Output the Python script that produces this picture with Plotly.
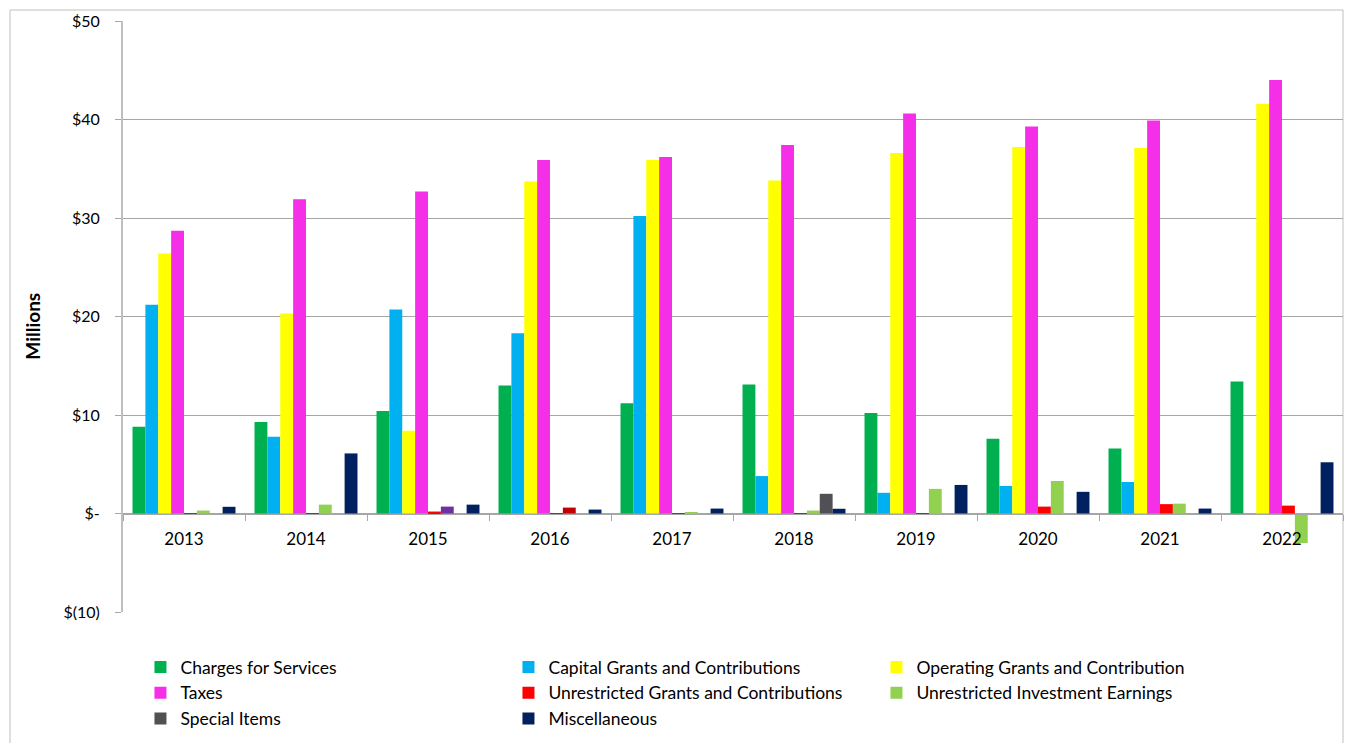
import plotly.graph_objects as go

# Revenue by source, in millions of dollars
years = ["2013", "2014", "2015", "2016", "2017", "2018", "2019", "2020", "2021", "2022"]

charges_for_services = [8.8, 9.3, 10.4, 13.0, 11.2, 13.1, 10.2, 7.6, 6.6, 13.4]
capital_grants = [21.2, 7.8, 20.7, 18.3, 30.2, 3.8, 2.1, 2.8, 3.2, 0.0]
operating_grants = [26.4, 20.3, 8.4, 33.7, 35.9, 33.8, 36.6, 37.2, 37.1, 41.6]
taxes = [28.7, 31.9, 32.7, 35.9, 36.2, 37.4, 40.6, 39.3, 39.9, 44.0]
unrestricted_grants = [0.03, 0.03, 0.2, 0.03, 0.03, 0.03, 0.03, 0.7, 0.95, 0.8]
investment_earnings = [0.3, 0.9, 0.7, 0.6, 0.15, 0.3, 2.5, 3.3, 1.0, -3.0]
special_items = [0.0, 0.0, 0.0, 0.0, 0.0, 2.0, 0.0, 0.0, 0.0, 0.0]
miscellaneous = [0.68, 6.1, 0.9, 0.4, 0.5, 0.48, 2.9, 2.2, 0.5, 5.2]

y_range = [-10, 50]
y_tickvals = [-10, 0, 10, 20, 30, 40, 50]
y_ticktext = ["$(10)", "$-", "$10", "$20", "$30", "$40", "$50"]

# Investment earnings bars carry a couple of individually recoloured points
investment_colors = ["#92D050"] * len(years)
investment_colors[2] = "#7030A0"
investment_colors[3] = "#C00000"

series = [
    ("Charges for Services", charges_for_services, "#00B050"),
    ("Capital Grants and Contributions", capital_grants, "#00B0F0"),
    ("Operating Grants and Contribution", operating_grants, "#FFFF00"),
    ("Taxes", taxes, "#F52FE8"),
    ("Unrestricted Grants and Contributions", unrestricted_grants, "#FF0000"),
    ("Unrestricted Investment Earnings", investment_earnings, investment_colors),
    ("Special Items", special_items, "#505055"),
    ("Miscellaneous", miscellaneous, "#002060"),
]

FONT = "Lato"
AXIS_GREY = "#A6A6A6"

fig = go.Figure()
for name, values, color in series:
    fig.add_trace(go.Bar(
        x=years, y=values, name=name,
        marker=dict(color=color, line=dict(width=0)),
        hoverinfo="x+y+name",
    ))

# Empty companion trace so the overlay axis knows the categories
# (it only draws the tick marks between the year groups)
fig.add_trace(go.Bar(
    x=years, y=[None] * len(years), xaxis="x2", yaxis="y",
    showlegend=False, hoverinfo="skip",
))

zero_pos = (0 - y_range[0]) / (y_range[1] - y_range[0])

fig.update_layout(
    width=1348, height=743,
    margin=dict(l=123, r=5, t=21, b=131, autoexpand=False),
    paper_bgcolor="white", plot_bgcolor="white",
    barmode="group", bargap=0.156, bargroupgap=0,
    font=dict(family=FONT, size=16, color="#000000"),
    showlegend=True,
    legend=dict(
        orientation="h",
        xref="container", yref="container",
        x=0.1042, xanchor="left", y=0.1265, yanchor="top",
        entrywidth=323, entrywidthmode="pixels",
        font=dict(family=FONT, size=17.5, color="#000000"),
        tracegroupgap=0,
        bgcolor="rgba(0,0,0,0)",
    ),
    xaxis=dict(
        anchor="free", position=zero_pos,
        showline=True, linecolor=AXIS_GREY, linewidth=1,
        ticks="", showgrid=False,
        tickfont=dict(family=FONT, size=17),
        ticklabelstandoff=10,
        fixedrange=True,
    ),
    xaxis2=dict(
        overlaying="x", anchor="free", position=zero_pos,
        showline=False, showgrid=False, showticklabels=False,
        ticks="outside", tickson="boundaries", ticklen=6,
        tickcolor=AXIS_GREY, tickwidth=1,
        fixedrange=True,
    ),
    yaxis=dict(
        range=y_range, tickvals=y_tickvals, ticktext=y_ticktext,
        showline=True, linecolor="#BFBFBF", linewidth=2,
        ticks="outside", ticklen=6, tickcolor=AXIS_GREY,
        showgrid=True, gridcolor=AXIS_GREY, gridwidth=1,
        zeroline=False, tickfont=dict(family=FONT, size=16),
        ticklabelstandoff=12, fixedrange=True,
    ),
    annotations=[dict(
        text="<b>Millions</b>", xref="paper", yref="paper",
        x=-0.074, y=0.484, xanchor="center", yanchor="middle",
        textangle=-90, showarrow=False,
        font=dict(family=FONT, size=19, color="#000000"),
    )],
    shapes=[dict(
        type="rect", xref="paper", yref="paper",
        x0=(10 - 123) / 1220, x1=1.0, y0=-0.3, y1=(612 - 10) / 591,
        line=dict(color="#BFBFBF", width=1), fillcolor="rgba(0,0,0,0)",
        layer="below",
    )],
)

fig.write_html("out.html")
